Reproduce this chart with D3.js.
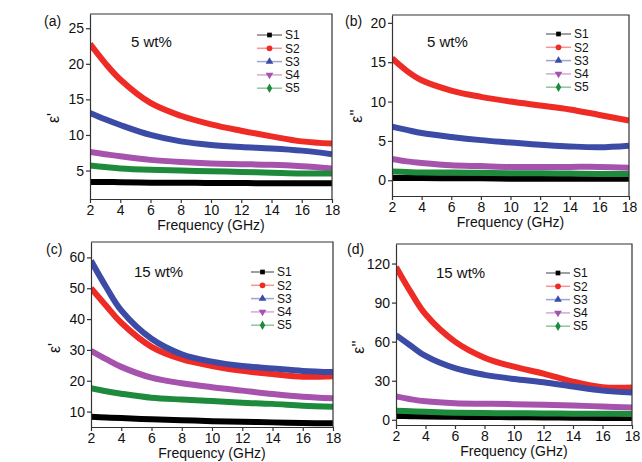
<!DOCTYPE html>
<html>
<head>
<meta charset="utf-8">
<script src="https://cdn.jsdelivr.net/npm/d3@7"></script>
<style>
  body { margin: 0; background: #fff; }
  svg { font-family: "Liberation Sans", Arial, sans-serif; }
</style>
</head>
<body>
<svg width="642" height="462"></svg>
<script>
// frequency points (GHz)
const freq = [2, 3, 4, 6, 8, 10, 12, 14, 16, 18];
const seriesNames = ["S1", "S2", "S3", "S4", "S5"];
const colors = ["#000000", "#ee2b24", "#3b4ba6", "#a653ae", "#1e8b3c"];
const symbols = [d3.symbolSquare, d3.symbolCircle, d3.symbolTriangle, d3.symbolTriangle, d3.symbolDiamond];

// (a) eps' 5 wt%
const realLow = [
  [3.4, 3.4, 3.35, 3.3, 3.3, 3.25, 3.25, 3.2, 3.2, 3.2],
  [22.8, 20.1, 17.8, 14.5, 12.7, 11.5, 10.6, 9.8, 9.1, 8.8],
  [13.1, 12.2, 11.4, 10.0, 9.1, 8.6, 8.3, 8.1, 7.8, 7.3],
  [7.6, 7.3, 7.0, 6.5, 6.2, 6.0, 5.9, 5.8, 5.6, 5.3],
  [5.7, 5.5, 5.3, 5.1, 5.0, 4.9, 4.8, 4.7, 4.6, 4.6]
];
// (b) eps'' 5 wt%
const imagLow = [
  [0.3, 0.3, 0.3, 0.25, 0.25, 0.2, 0.2, 0.2, 0.2, 0.2],
  [15.5, 13.9, 12.7, 11.4, 10.6, 10.0, 9.5, 9.0, 8.3, 7.6],
  [6.8, 6.4, 6.0, 5.5, 5.1, 4.8, 4.5, 4.3, 4.2, 4.4],
  [2.7, 2.4, 2.2, 1.9, 1.8, 1.7, 1.7, 1.7, 1.7, 1.6],
  [1.1, 1.05, 1.0, 1.0, 0.95, 0.9, 0.9, 0.85, 0.8, 0.8]
];
// (c) eps' 15 wt%
const realHigh = [
  [8.3, 8.1, 7.9, 7.5, 7.2, 6.9, 6.7, 6.5, 6.3, 6.2],
  [50.0, 44.3, 38.8, 31.0, 27.0, 24.8, 23.2, 22.2, 21.3, 21.5],
  [58.9, 50.4, 42.8, 33.6, 28.6, 26.2, 24.8, 24.0, 23.2, 22.8],
  [29.7, 27.0, 24.5, 21.0, 19.2, 17.9, 16.8, 15.7, 14.8, 14.3],
  [17.6, 16.6, 15.8, 14.5, 13.9, 13.4, 12.9, 12.5, 11.9, 11.6]
];
// (d) eps'' 15 wt%
const imagHigh = [
  [3.0, 2.8, 2.6, 2.3, 2.1, 2.0, 1.8, 1.6, 1.4, 1.3],
  [117.4, 98.0, 81.0, 60.0, 47.7, 40.8, 35.5, 29.3, 25.0, 24.8],
  [65.0, 56.9, 49.0, 39.6, 34.5, 31.4, 28.8, 25.5, 22.4, 20.9],
  [17.9, 15.8, 14.2, 12.7, 12.3, 12.0, 11.5, 11.0, 10.2, 9.5],
  [7.0, 6.5, 6.1, 5.5, 5.2, 5.0, 4.9, 4.7, 4.6, 4.5]
];
const xTicks = [2, 4, 6, 8, 10, 12, 14, 16, 18];

const panels = [
  { tag: "(a)", note: "5 wt%", ylab: "ε'", data: realLow, yDom: [1, 27], yTicks: [5, 10, 15, 20, 25],
    box: [90, 332, 14, 199], tagPos: [44, 26], notePos: [131, 47], leg: [257, 282, 35], yl: [59, 118] },
  { tag: "(b)", note: "5 wt%", ylab: "ε''", data: imagLow, yDom: [-2, 21], yTicks: [0, 5, 10, 15, 20],
    box: [392, 629, 15, 196], tagPos: [345, 26], notePos: [427, 47], leg: [546, 571, 34], yl: [362, 116] },
  { tag: "(c)", note: "15 wt%", ylab: "ε'", data: realHigh, yDom: [5, 65], yTicks: [10, 20, 30, 40, 50, 60],
    box: [91, 333, 242, 427], tagPos: [46, 254], notePos: [134, 277], leg: [251, 274, 272], yl: [60, 348] },
  { tag: "(d)", note: "15 wt%", ylab: "ε''", data: imagHigh, yDom: [-4, 135], yTicks: [0, 30, 60, 90, 120],
    box: [396, 632, 244, 425], tagPos: [347, 254], notePos: [436, 278], leg: [546, 570, 273], yl: [364, 347] }
];

const svg = d3.select("svg");

panels.forEach(p => {
  const [x0, x1, y0, y1] = p.box;
  const x = d3.scaleLinear().domain([2, 18]).range([x0, x1]);
  const y = d3.scaleLinear().domain(p.yDom).range([y1, y0]);
  const g = svg.append("g");

  // curves
  const line = d3.line().x((d, i) => x(freq[i])).y(d => y(d)).curve(d3.curveCatmullRom.alpha(0.5));
  const clipId = "clip" + p.tag.replace(/\W/g, "");
  g.append("clipPath").attr("id", clipId).append("rect")
    .attr("x", x0).attr("y", y0).attr("width", x1 - x0).attr("height", y1 - y0);
  g.append("g").attr("clip-path", `url(#${clipId})`)
    .selectAll("path").data(p.data).join("path")
    .attr("d", line).attr("fill", "none")
    .attr("stroke", (d, i) => colors[i]).attr("stroke-width", 6);

  // axes
  const ax = g.append("g").attr("transform", `translate(0,${y1})`)
    .call(d3.axisBottom(x).tickValues(xTicks).tickSize(4).tickPadding(2).tickSizeOuter(0));
  const ay = g.append("g").attr("transform", `translate(${x0},0)`)
    .call(d3.axisLeft(y).tickValues(p.yTicks).tickSize(4).tickPadding(2).tickSizeOuter(0));
  [ax, ay].forEach(a => {
    a.select(".domain").attr("stroke", "#333").attr("stroke-width", 1.2);
    a.selectAll(".tick line").attr("stroke", "#333").attr("stroke-width", 1.2);
    a.selectAll(".tick text").attr("font-size", 14).attr("fill", "#111")
      .attr("font-family", "Liberation Sans, Arial, sans-serif");
  });

  // frame top/right
  g.append("path").attr("d", `M${x0},${y0}H${x1}V${y1}`)
    .attr("fill", "none").attr("stroke", "#333").attr("stroke-width", 1.2);

  // labels
  g.append("text").attr("x", (x0 + x1) / 2).attr("y", y1 + 31).attr("text-anchor", "middle")
    .attr("font-size", 14).attr("fill", "#111").text("Frequency (GHz)");
  g.append("text").attr("transform", `translate(${p.yl[0]},${p.yl[1]}) rotate(-90)`)
    .attr("text-anchor", "middle").attr("font-size", 16).attr("fill", "#111").text(p.ylab);
  g.append("text").attr("x", p.tagPos[0]).attr("y", p.tagPos[1])
    .attr("font-size", 14).attr("fill", "#111").text(p.tag);
  g.append("text").attr("x", p.notePos[0]).attr("y", p.notePos[1])
    .attr("font-size", 15).attr("fill", "#111").text(p.note);

  // legend
  const [lx0, lx1, ly] = p.leg;
  seriesNames.forEach((s, i) => {
    const yy = ly + i * 13.3;
    g.append("line").attr("x1", lx0).attr("x2", lx1).attr("y1", yy).attr("y2", yy)
      .attr("stroke", colors[i]).attr("stroke-opacity", 0.5).attr("stroke-width", 1.5);
    g.append("path")
      .attr("d", d3.symbol().type(symbols[i]).size(i === 0 ? 22 : 26)())
      .attr("transform", `translate(${(lx0 + lx1) / 2},${yy})` + (i === 3 ? " rotate(180)" : ""))
      .attr("fill", colors[i]);
    g.append("text").attr("x", lx1 + 3).attr("y", yy).attr("dy", "0.35em")
      .attr("font-size", 12).attr("fill", "#111").text(s);
  });
});
</script>
</body>
</html>
